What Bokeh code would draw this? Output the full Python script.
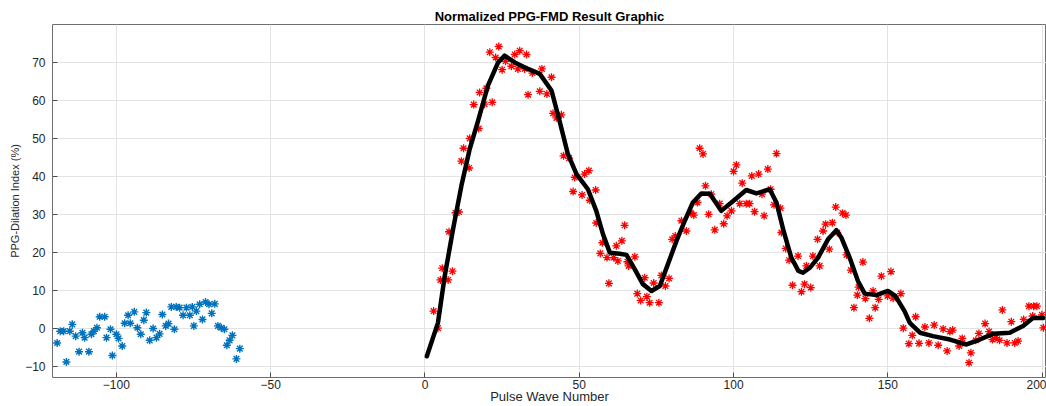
from bokeh.plotting import figure
from bokeh.models import FixedTicker, Range1d
from bokeh.embed import file_html
from bokeh.resources import INLINE

# Baseline (blue) measurements
pre_x = [-119.2, -118.2, -117.1, -116.2, -115.1, -114.3, -113.2, -112.1, -111.0, -110.3,
         -108.9, -108.1, -107.3, -106.3, -105.4, -103.8, -103.2, -101.9, -101.3, -100.0,
         -99.3, -98.1, -97.3, -96.2, -95.5, -94.2, -93.2, -92.1, -91.1, -90.3,
         -89.2, -88.1, -87.0, -86.0, -85.1, -84.0, -83.1, -82.2, -81.2, -80.6,
         -79.5, -78.4, -77.3, -76.2, -75.4, -74.9, -74.1, -73.0, -72.1, -71.1,
         -70.0, -69.1, -68.1, -67.1, -66.0, -65.0, -64.2, -63.3, -62.4, -61.1, -60.0]
pre_y = [-3.9, -0.8, -0.8, -8.9, -0.8, 1.0, -2.1, -6.2, -1.2, -2.5,
         -6.2, -1.6, -0.8, 0.1, 3.0, 3.0, -2.5, -0.3, -7.2, -1.6,
         -2.7, -4.7, 1.3, 3.4, 1.3, 4.3, 0.1, -1.6, 2.1, 4.1,
         -3.2, -0.1, -2.5, -1.5, 3.6, 0.6, 1.2, 5.6, -0.3, 5.6,
         5.4, 3.4, 5.4, 3.4, 5.6, 0.6, 4.5, 6.3, 2.3, 6.9,
         6.3, 3.9, 6.4, 0.6, 0.1, -0.3, -4.5, -3.2, -1.9, -8.1, -5.4]

# Post-release (red) measurements
post_x = [2.8, 4.2, 5.0, 5.6, 7.5, 7.8, 8.9, 9.9, 11.0, 11.8, 12.5, 14.3, 14.5, 15.8, 17.4,
          17.7, 19.3, 19.9, 21.0, 21.8, 22.9, 23.9, 25.0, 26.1, 28.0, 29.1, 30.1, 30.7, 32.3,
          32.9, 33.4,
          34.8, 37.2, 37.9, 39.5, 41.0, 41.5, 42.6, 44.2, 44.9, 46.7, 48.0, 48.5, 50.9, 51.7,
          53.1, 53.4, 55.3, 55.5, 56.8, 57.5, 59.0, 59.6, 61.1, 62.0, 62.5,
          63.8, 64.7, 65.6, 66.0, 68.0, 68.8, 69.9, 71.2, 71.9, 72.8, 74.1, 75.8, 76.6, 77.9,
          79.1, 80.1, 81.1, 83.1, 84.7, 86.1, 87.1, 88.3, 89.0, 90.1, 90.9, 91.9,
          92.8, 93.9, 95.5, 96.8, 97.9, 99.3, 100.0, 100.9, 102.0, 102.8, 104.1, 105.2, 105.9,
          106.8, 108.1, 109.2, 109.9, 111.1, 112.0, 113.1, 113.9, 115.2, 115.5, 116.9, 118.0,
          119.1, 120.9, 122.0, 123.0, 123.6,
          125.0, 125.7, 127.2, 127.9, 129.0, 129.8, 131.0, 132.0, 133.1, 133.6, 135.3, 136.4,
          136.6, 138.0, 139.0, 140.1, 140.5, 141.9, 142.7, 144.0, 145.2, 145.9, 147.0, 147.9,
          149.9, 151.0, 151.7, 154.2,
          155.0, 156.8, 157.9, 159.0, 160.1, 162.0, 163.3, 165.0, 166.3, 167.9, 169.2, 170.1,
          171.0, 173.1, 174.1, 176.3, 176.9, 178.5, 179.5, 181.5, 182.8, 183.9, 185.0, 186.2,
          187.1, 188.6, 190.0, 191.1, 192.2, 194.0, 195.7, 196.9, 197.2, 198.3, 199.9, 200.4]
post_y = [4.5, 0.0, 12.7, 15.8, 12.7, 25.4, 15.0, 30.4, 30.6, 44.0, 47.4, 42.2, 50.0, 58.9, 52.6,
          62.1, 59.0, 63.2, 72.7, 59.5, 71.3, 74.2, 68.1, 70.3, 69.0, 72.1, 68.3, 73.1, 68.3,
          72.1, 61.5,
          67.2, 62.4, 68.3, 61.7, 66.1, 56.6, 55.4, 56.2, 45.4, 44.8, 36.0, 39.7, 35.1, 40.6,
          41.5, 33.7, 36.4, 27.7, 19.7, 22.5, 18.6, 11.8, 18.6, 21.7, 17.7,
          23.0, 27.1, 17.5, 16.4, 18.8, 9.1, 7.3, 13.3, 8.3, 6.7, 11.9, 6.7, 13.9, 11.1,
          13.1, 23.4, 24.3, 28.3, 25.6, 30.4, 29.8, 33.1, 47.4, 45.9, 37.5, 30.0,
          35.3, 25.9, 32.8, 27.5, 29.6, 30.9, 41.3, 43.0, 32.8, 38.2, 32.8, 32.8, 40.1,
          30.7, 40.6, 35.3, 29.6, 41.9, 36.6, 32.5, 46.0, 31.6, 25.2, 21.0, 17.9,
          11.3, 19.0, 9.6, 11.6, 16.4,
          10.7, 19.0, 23.4, 16.4, 25.6, 27.4, 20.8, 27.8, 31.9, 25.2, 30.3, 29.8,
          19.3, 15.3, 5.4, 8.7, 10.8, 17.4, 7.8, 2.6, 9.8, 5.4, 7.6, 13.7,
          8.5, 14.9, 7.9, 9.1,
          0.0, -4.1, -1.9, 3.0, -4.0, 0.3, -3.9, 0.8, -4.5, -0.2, -6.0, -0.9,
          -0.5, -4.7, -2.7, -9.1, -6.5, -3.2, -1.4, 1.2, -0.9, -3.0, -2.5, -3.2,
          4.8, -3.9, 1.7, -3.9, -3.4, 2.3, 5.8, 3.2, 5.8, 5.8, 3.5, 0.1]

# Smoothed trend (black)
fit_x = [0.6, 4.2, 6.4, 9.1, 11.8, 14.5, 17.2, 20.4, 23.7, 25.8, 29.1, 33.4, 37.2, 41.0, 43.6,
         46.3, 49.1, 52.8, 55.5, 57.7, 59.9, 63.1, 65.3, 68.0, 70.6, 73.4, 76.1, 78.7, 81.5,
         84.2, 86.8, 89.6, 92.3, 96.0, 99.3, 104.1, 107.4, 111.7, 113.9, 116.2, 118.7, 121.0,
         122.5, 124.7, 127.4, 130.6, 133.3, 134.9, 137.6, 140.3, 142.5, 146.3, 150.0, 152.4,
         155.4, 157.1, 160.4, 164.6, 170.1, 175.5, 179.8, 184.1, 189.5, 193.8, 197.0, 200.3]
fit_y = [-7.4, 1.4, 13.7, 26.1, 37.5, 47.2, 54.6, 63.9, 70.0, 71.8, 70.0, 68.3, 67.0, 62.6, 54.6,
         45.9, 40.6, 36.6, 30.9, 24.7, 19.9, 19.6, 19.3, 15.5, 11.6, 9.8, 11.1, 16.8, 23.0,
         28.3, 33.1, 35.5, 35.4, 30.9, 33.1, 36.4, 35.5, 36.6, 33.1, 25.6, 18.6, 15.1,
         14.6, 15.9, 18.6, 23.4, 25.8, 23.9, 18.6, 12.4, 9.1, 8.7, 9.8, 8.5,
         4.5, 1.4, -1.2, -2.1, -3.0, -4.3, -3.0, -1.5, -1.2, 0.6, 2.7, 2.7]

x_ticks = [-100, -50, 0, 50, 100, 150, 200]
y_ticks = [-10, 0, 10, 20, 30, 40, 50, 60, 70]

FONT = "Liberation Sans"
TXT = "#262626"

p = figure(width=1046, height=406, output_backend="svg", toolbar_location=None,
           x_range=Range1d(-120.7, 201.4), y_range=Range1d(-13, 80),
           min_border_left=52, min_border_right=0, min_border_top=24, min_border_bottom=29,
           title="Normalized PPG-FMD Result Graphic")

p.title.align = "center"
p.title.text_font = FONT
p.title.text_font_size = "13px"
p.title.text_font_style = "bold"
p.title.text_color = "#000000"
p.title.standoff = 2

p.outline_line_color = "#6e6e6e"
p.outline_line_width = 1
p.background_fill_color = "white"
p.border_fill_color = "white"

for ax in (p.xaxis, p.yaxis):
    ax.axis_line_color = None
    ax.major_tick_in = 5
    ax.major_tick_out = 0
    ax.minor_tick_line_color = None
    ax.major_tick_line_color = "#4d4d4d"
    ax.major_label_text_font = FONT
    ax.major_label_text_color = TXT
    ax.axis_label_text_font = FONT
    ax.axis_label_text_color = TXT
    ax.axis_label_text_font_style = "normal"

p.xaxis.ticker = FixedTicker(ticks=x_ticks)
p.yaxis.ticker = FixedTicker(ticks=y_ticks)
p.xaxis.major_label_text_font_size = "12px"
p.yaxis.major_label_text_font_size = "12px"
p.xaxis.axis_label = "Pulse Wave Number"
p.yaxis.axis_label = "PPG-Dilation Index (%)"
p.xaxis.axis_label_text_font_size = "13px"
p.yaxis.axis_label_text_font_size = "11px"
p.xaxis.major_label_standoff = 2
p.xaxis.axis_label_standoff = -3
p.yaxis.major_label_standoff = 7
p.yaxis.axis_label_standoff = 1

p.xgrid.ticker = FixedTicker(ticks=x_ticks)
p.ygrid.ticker = FixedTicker(ticks=y_ticks)
p.grid.grid_line_color = "#e3e3e3"
p.grid.grid_line_width = 1

p.scatter(pre_x, pre_y, marker="asterisk", size=8, line_color="#0072BD", line_width=1.4)
p.scatter(post_x, post_y, marker="asterisk", size=8, line_color="#FF0000", line_width=1.3)
p.line(fit_x, fit_y, line_color="black", line_width=4.5, line_join="round", line_cap="round")

open("out.html", "w").write(file_html(p, INLINE))
